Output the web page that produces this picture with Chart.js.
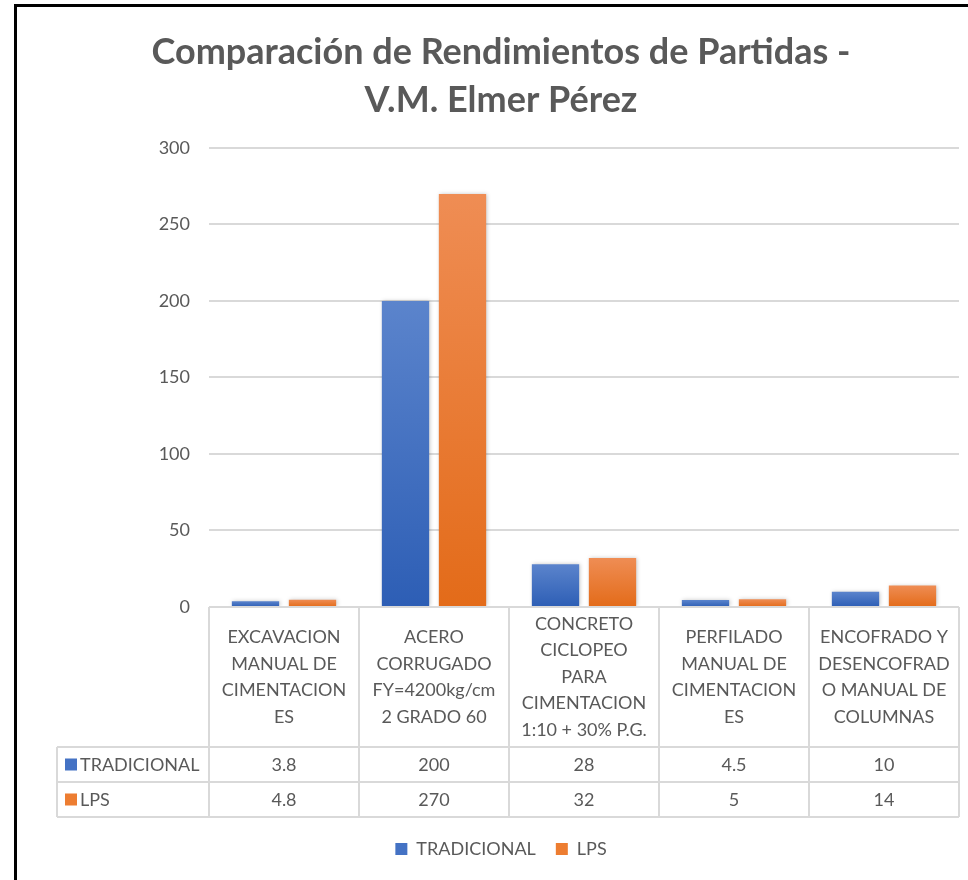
<!DOCTYPE html>
<html>
<head>
<meta charset="utf-8">
<script src="https://cdn.jsdelivr.net/npm/chart.js@4/dist/chart.umd.min.js"></script>
<style>
  html, body { margin: 0; padding: 0; background: #fff; overflow: hidden; }
  #frame { position: absolute; left: 14px; top: 4px; width: 980px; height: 880px;
           border-top: 3px solid #000; border-left: 3px solid #000; }
</style>
</head>
<body>
<div id="frame"><canvas id="myChart" width="968" height="873"></canvas></div>
<script>
  // data
  var categories = [
    ["EXCAVACION", "MANUAL DE", "CIMENTACION", "ES"],
    ["ACERO", "CORRUGADO", "FY=4200kg/cm", "2 GRADO 60"],
    ["CONCRETO", "CICLOPEO", "PARA", "CIMENTACION", "1:10 + 30% P.G."],
    ["PERFILADO", "MANUAL DE", "CIMENTACION", "ES"],
    ["ENCOFRADO Y", "DESENCOFRAD", "O MANUAL DE", "COLUMNAS"]
  ];
  var tradicional = [3.8, 200, 28, 4.5, 10];
  var lps = [4.8, 270, 32, 5, 14];
  var yTicks = [0, 50, 100, 150, 200, 250, 300];

  var textColor = "#595959";
  var lineColor = "#d9d9d9";
  var font = "Lato";
  var fontSize = 18;

  // per-bar vertical gradient, lighter at the top
  function barFill(light, dark) {
    return function (c) {
      var chart = c.chart, a = chart.chartArea;
      if (!a || c.type !== 'data') return dark;
      var y = chart.scales.y;
      var top = y.getPixelForValue(c.raw), base = y.getPixelForValue(0);
      if (base - top < 1) return dark;
      var g = chart.ctx.createLinearGradient(0, top, 0, base);
      g.addColorStop(0, light);
      g.addColorStop(1, dark);
      return g;
    };
  }

  var shadowPlugin = {
    id: 'barShadow',
    beforeDatasetsDraw: function (chart) {
      var ctx = chart.ctx;
      ctx.save();
      ctx.shadowColor = 'rgba(0,0,0,0.22)';
      ctx.shadowBlur = 4;
      ctx.shadowOffsetX = 1;
      ctx.shadowOffsetY = 0;
    },
    afterDatasetsDraw: function (chart) { chart.ctx.restore(); }
  };

  // data table under the plot
  var tablePlugin = {
    id: 'dataTable',
    afterDraw: function (chart) {
      var ctx = chart.ctx, a = chart.chartArea;
      var n = categories.length;
      var colW = (a.right - a.left) / n;
      var top = a.bottom, headBottom = top + 140, row1 = headBottom + 35, row2 = row1 + 35;
      var left = 40;
      ctx.save();
      ctx.strokeStyle = lineColor;
      ctx.lineWidth = 2;
      ctx.beginPath();
      ctx.moveTo(a.left, top); ctx.lineTo(a.right, top);
      [headBottom, row1, row2].forEach(function (y) { ctx.moveTo(left, y); ctx.lineTo(a.right, y); });
      for (var i = 0; i <= n; i++) {
        var x = a.left + i * colW;
        ctx.moveTo(x, top); ctx.lineTo(x, row2);
      }
      ctx.moveTo(left, headBottom); ctx.lineTo(left, row2);
      ctx.stroke();

      ctx.fillStyle = textColor;
      ctx.font = fontSize + "px " + font;
      ctx.textAlign = "center";
      ctx.textBaseline = "middle";
      var lh = 26.5;
      categories.forEach(function (lines, i) {
        var cx = a.left + (i + 0.5) * colW;
        var y0 = (top + headBottom) / 2 - (lines.length - 1) * lh / 2;
        lines.forEach(function (t, k) { ctx.fillText(t, cx, y0 + k * lh); });
      });

      var rows = [
        { name: "TRADICIONAL", values: tradicional, color: "#4472c4", y: (headBottom + row1) / 2 },
        { name: "LPS", values: lps, color: "#ed7d31", y: (row1 + row2) / 2 }
      ];
      rows.forEach(function (r) {
        ctx.fillStyle = r.color;
        ctx.fillRect(left + 8, r.y - 6, 12, 12);
        ctx.fillStyle = textColor;
        ctx.textAlign = "left";
        ctx.fillText(r.name, left + 23, r.y + 1);
        ctx.textAlign = "center";
        r.values.forEach(function (v, i) {
          ctx.fillText(String(v), a.left + (i + 0.5) * colW, r.y + 1);
        });
      });
      ctx.restore();
    }
  };

  var ctx = document.getElementById("myChart").getContext('2d');
  var myChart = new Chart(ctx, {
    type: 'bar',
    data: {
      labels: categories.map(function (c) { return c.join(" "); }),
      datasets: [{
        label: 'TRADICIONAL',
        data: tradicional,
        backgroundColor: barFill("#5b84cc", "#2d5eb5"),
        categoryPercentage: 0.76,
        barPercentage: 0.83
      },
      {
        label: 'LPS',
        data: lps,
        backgroundColor: barFill("#ef8d54", "#e36b19"),
        categoryPercentage: 0.76,
        barPercentage: 0.83
      }]
    },
    options: {
      responsive: false,
      animation: false,
      layout: { padding: { left: 0, right: 0, top: 0, bottom: 12 } },
      plugins: {
        title: {
          display: true,
          text: ["Comparación de Rendimientos de Partidas -", "V.M. Elmer Pérez"],
          color: textColor,
          font: { family: font, size: 36, weight: 'bold', lineHeight: 1.333 },
          padding: { top: 21, bottom: 24 }
        },
        legend: {
          position: 'bottom',
          labels: {
            color: textColor,
            font: { family: font, size: fontSize },
            boxWidth: 12,
            boxHeight: 12,
            padding: 20,
            generateLabels: function () {
              return [
                { text: "TRADICIONAL", fillStyle: "#4472c4", strokeStyle: "#4472c4", lineWidth: 0, datasetIndex: 0, fontColor: textColor },
                { text: "LPS", fillStyle: "#ed7d31", strokeStyle: "#ed7d31", lineWidth: 0, datasetIndex: 1, fontColor: textColor }
              ];
            }
          }
        },
        tooltip: { enabled: false }
      },
      scales: {
        x: {
          grid: { display: false },
          border: { display: false },
          ticks: { display: false },
          afterFit: function (s) { s.height = 213; }
        },
        y: {
          min: yTicks[0],
          max: yTicks[yTicks.length - 1],
          afterBuildTicks: function (s) { s.ticks = yTicks.map(function (v) { return { value: v }; }); },
          afterFit: function (s) { s.width = 192; },
          grid: { color: lineColor, lineWidth: 2, drawTicks: false },
          border: { display: false },
          ticks: { color: textColor, font: { family: font, size: fontSize }, padding: 19 }
        },
        // empty right-hand spacer so the title and legend stay centred on the full width
        spacer: {
          type: 'linear',
          position: 'right',
          grid: { display: false },
          border: { display: false },
          ticks: { display: false },
          afterFit: function (s) { s.width = 26; }
        }
      }
    },
    plugins: [shadowPlugin, tablePlugin]
  });
</script>
</body>
</html>
